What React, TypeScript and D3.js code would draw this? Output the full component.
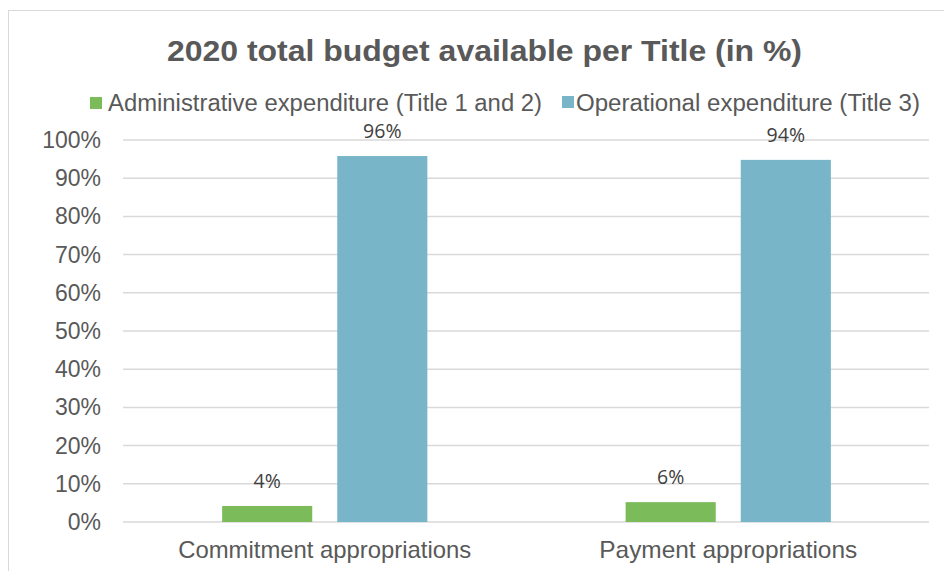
import { useEffect, useRef } from "react";
import * as d3 from "d3";

const categories = ["Commitment appropriations", "Payment appropriations"];
const seriesNames = [
  "Administrative expenditure (Title 1 and 2)",
  "Operational expenditure (Title 3)",
];
const adminValues = [4.2, 5.2];
const operationalValues = [95.8, 94.8];
const adminLabels = ["4%", "6%"];
const operationalLabels = ["96%", "94%"];
const yTicks = [0, 10, 20, 30, 40, 50, 60, 70, 80, 90, 100];

const colors = ["#7cbb5a", "#78b5c8"];
const textColor = "#595959";
const font = "Arial, 'Liberation Sans', sans-serif";

const App = () => {
  const ref = useRef<SVGSVGElement | null>(null);

  useEffect(() => {
    if (!ref.current) return;
    const svg = d3.select(ref.current);
    svg.selectAll("*").remove();

    const width = 944;
    const height = 571;
    const margin = { top: 140, right: 15, bottom: 49, left: 123 };

    // chart frame (runs past the right/bottom edges like the crop)
    svg.append("rect")
      .attr("x", 8.5).attr("y", 10.5)
      .attr("width", width + 20).attr("height", height + 20)
      .attr("fill", "#fff").attr("stroke", "#d9d9d9").attr("stroke-width", 1);

    const x0 = d3.scaleBand()
      .domain(categories)
      .range([margin.left, width - margin.right + 1]);

    const bw = x0.bandwidth();
    const x1 = d3.scaleBand()
      .domain(seriesNames)
      .range([bw * 0.2457, bw * 0.7543])
      .paddingInner(0.2174);

    const y = d3.scaleLinear()
      .domain([0, 100])
      .range([height - margin.bottom, margin.top]);

    // gridlines
    svg.append("g")
      .selectAll("line")
      .data(yTicks)
      .join("line")
      .attr("x1", margin.left)
      .attr("x2", width - margin.right)
      .attr("y1", d => y(d))
      .attr("y2", d => y(d))
      .attr("stroke", "#d9d9d9")
      .attr("stroke-width", 1.5);

    svg.append("g")
      .selectAll("text")
      .data(yTicks)
      .join("text")
      .attr("x", 101)
      .attr("y", d => y(d))
      .attr("dy", "0.35em")
      .attr("text-anchor", "end")
      .attr("font-family", font)
      .attr("font-size", 23)
      .attr("fill", textColor)
      .text(d => `${d}%`);

    const rows = categories.map((c, i) => ({
      cat: c,
      items: [
        { s: seriesNames[0], v: adminValues[i], label: adminLabels[i], color: colors[0] },
        { s: seriesNames[1], v: operationalValues[i], label: operationalLabels[i], color: colors[1] },
      ],
    }));

    const groups = svg.append("g")
      .selectAll("g")
      .data(rows)
      .join("g")
      .attr("transform", d => `translate(${x0(d.cat)},0)`);

    groups.selectAll("rect")
      .data(d => d.items)
      .join("rect")
      .attr("x", d => x1(d.s)!)
      .attr("y", d => y(d.v))
      .attr("width", x1.bandwidth())
      .attr("height", d => y(0) - y(d.v))
      .attr("fill", d => d.color);

    groups.selectAll("text")
      .data(d => d.items)
      .join("text")
      .attr("x", d => x1(d.s)! + x1.bandwidth() / 2)
      .attr("y", d => y(d.v) - 18)
      .attr("text-anchor", "middle")
      .attr("font-family", "'Open Sans', sans-serif")
      .attr("font-size", 19.5)
      .attr("fill", "#404040")
      .text(d => d.label);

    // category labels
    const catWidths = [293, 258];
    svg.append("g")
      .selectAll("text")
      .data(categories)
      .join("text")
      .attr("x", d => x0(d)! + bw / 2)
      .attr("y", 558)
      .attr("text-anchor", "middle")
      .attr("font-family", font)
      .attr("font-size", 24)
      .attr("textLength", (_, i) => catWidths[i])
      .attr("lengthAdjust", "spacingAndGlyphs")
      .attr("fill", textColor)
      .text(d => d);

    // title
    svg.append("text")
      .attr("x", 484.5)
      .attr("y", 61)
      .attr("text-anchor", "middle")
      .attr("font-family", font)
      .attr("font-size", 30)
      .attr("font-weight", "bold")
      .attr("textLength", 635)
      .attr("lengthAdjust", "spacingAndGlyphs")
      .attr("fill", textColor)
      .text("2020 total budget available per Title (in %)");

    // legend
    const legendX = [90, 562];
    const legendW = [434, 344];
    const legend = svg.append("g")
      .selectAll("g")
      .data(seriesNames)
      .join("g")
      .attr("transform", (_, i) => `translate(${legendX[i]},0)`);
    legend.append("rect")
      .attr("y", (_, i) => (i === 0 ? 97 : 96))
      .attr("width", 12).attr("height", 12)
      .attr("fill", (_, i) => colors[i]);
    legend.append("text")
      .attr("x", (_, i) => (i === 0 ? 18 : 14))
      .attr("y", 111)
      .attr("font-family", font)
      .attr("font-size", 23)
      .attr("textLength", (_, i) => legendW[i])
      .attr("lengthAdjust", "spacingAndGlyphs")
      .attr("fill", textColor)
      .text(d => d);
  }, []);

  return (
    <svg
      ref={ref}
      width={944}
      height={571}
      style={{ position: "absolute", left: 0, top: 0, background: "#fff" }}
    />
  );
};

export default App;
